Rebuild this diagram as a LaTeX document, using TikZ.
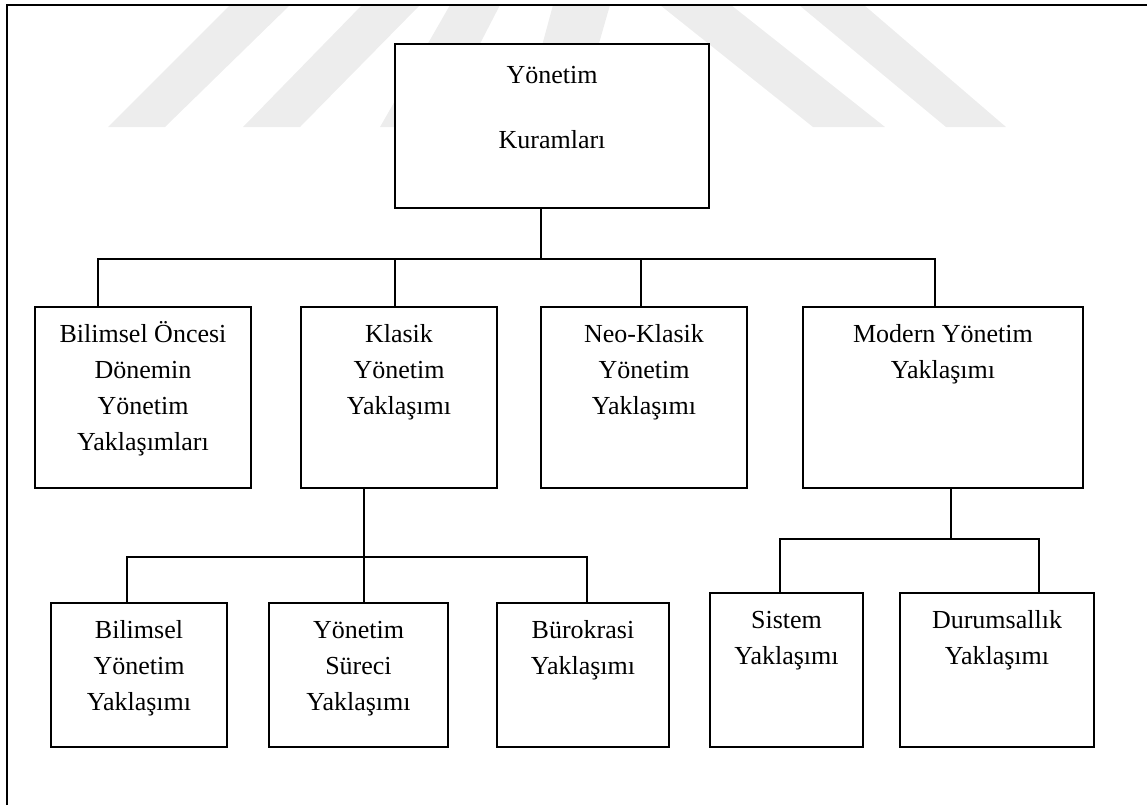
\documentclass[tikz,border=0pt]{standalone}
\usepackage{fontspec}
\setmainfont{Liberation Serif}
\newcommand\mylines[1]{\begin{tabular}[t]{@{}c@{}}#1\end{tabular}}
\tikzset{
  box/.style={draw, line width=1.2pt, fill=white, inner sep=0pt},
  txt/.style={anchor=base, inner sep=0pt, font=\fontsize{13}{18}\selectfont},
  wire/.style={line width=1.1pt},
  frame/.style={line width=1.4pt, line join=miter},
  stripe/.style={fill=black!7, draw=none}
}
\begin{document}
\begin{tikzpicture}[x=0.5pt, y=-0.5pt]
\useasboundingbox (0,0) rectangle (1147,805);

% faint background bands
\fill[stripe] (108,127) -- (165,127) -- (290,5) -- (230,5) -- cycle;
\fill[stripe] (243,127) -- (300,127) -- (420,5) -- (362,5) -- cycle;
\fill[stripe] (380,127) -- (437,127) -- (500,5) -- (450,5) -- cycle;
\fill[stripe] (520,127) -- (575,127) -- (610,5) -- (553,5) -- cycle;
\fill[stripe] (660,5) -- (731,5) -- (885,127) -- (813,127) -- cycle;
\fill[stripe] (799,5) -- (864,5) -- (1006,127) -- (946,127) -- cycle;

% page frame
\draw[frame] (7,805) -- (7,5) -- (1147,5);

% root
\node[box, minimum width=157pt, minimum height=82pt] (top) at (552,126) {};
\node[txt] (ttop) at (552,83) {\mylines{Yönetim\\[14.5pt]Kuramları}};

% second level
\node[box, minimum width=108pt, minimum height=90.5pt] (b1) at (143,397.5) {};
\node[box, minimum width=98pt,  minimum height=90.5pt] (kl) at (399,397.5) {};
\node[box, minimum width=103pt, minimum height=90.5pt] (nk) at (644,397.5) {};
\node[box, minimum width=140pt, minimum height=90.5pt] (md) at (943,397.5) {};
\node[txt] (tb1) at (143,342) {\mylines{Bilimsel Öncesi\\Dönemin\\Yönetim\\Yaklaşımları}};
\node[txt] (tkl) at (399,342) {\mylines{Klasik\\Yönetim\\Yaklaşımı}};
\node[txt] (tnk) at (644,342) {\mylines{Neo-Klasik\\Yönetim\\Yaklaşımı}};
\node[txt] (tmd) at (943,342) {\mylines{Modern Yönetim\\Yaklaşımı}};

% third level
\node[box, minimum width=88pt,   minimum height=72pt] (by) at (139,675) {};
\node[box, minimum width=89.5pt, minimum height=72pt] (ys) at (358.5,675) {};
\node[box, minimum width=86pt,   minimum height=72pt] (bu) at (583,675) {};
\node[box, minimum width=76.5pt, minimum height=77pt] (si) at (786.5,670) {};
\node[box, minimum width=97pt,   minimum height=77pt] (du) at (997,670) {};
\node[txt] (tby) at (139,638) {\mylines{Bilimsel\\Yönetim\\Yaklaşımı}};
\node[txt] (tys) at (358.5,638) {\mylines{Yönetim\\Süreci\\Yaklaşımı}};
\node[txt] (tbu) at (583,638) {\mylines{Bürokrasi\\Yaklaşımı}};
\node[txt] (tsi) at (786.5,628) {\mylines{Sistem\\Yaklaşımı}};
\node[txt] (tdu) at (997,628) {\mylines{Durumsallık\\Yaklaşımı}};

% junction points
\coordinate (hub) at (541,259);
\coordinate (d1) at (98,259);
\coordinate (d2) at (395,259);
\coordinate (d3) at (641,259);
\coordinate (d4) at (935,259);
\coordinate (khub) at (364,557);
\coordinate (k1) at (127,557);
\coordinate (k3) at (587,557);
\coordinate (mhub) at (951,539);
\coordinate (m1) at (780,539);
\coordinate (m2) at (1039,539);

% connectors
\draw[wire] (top.south -| hub) -- (hub);
\draw[wire] (b1.north -| d1) -- (d1) -- (d4) -- (md.north -| d4);
\draw[wire] (d2) -- (kl.north -| d2);
\draw[wire] (d3) -- (nk.north -| d3);

\draw[wire] (kl.south -| khub) -- (ys.north -| khub);
\draw[wire] (by.north -| k1) -- (k1) -- (k3) -- (bu.north -| k3);

\draw[wire] (md.south -| mhub) -- (mhub);
\draw[wire] (si.north -| m1) -- (m1) -- (m2) -- (du.north -| m2);
\end{tikzpicture}
\end{document}
